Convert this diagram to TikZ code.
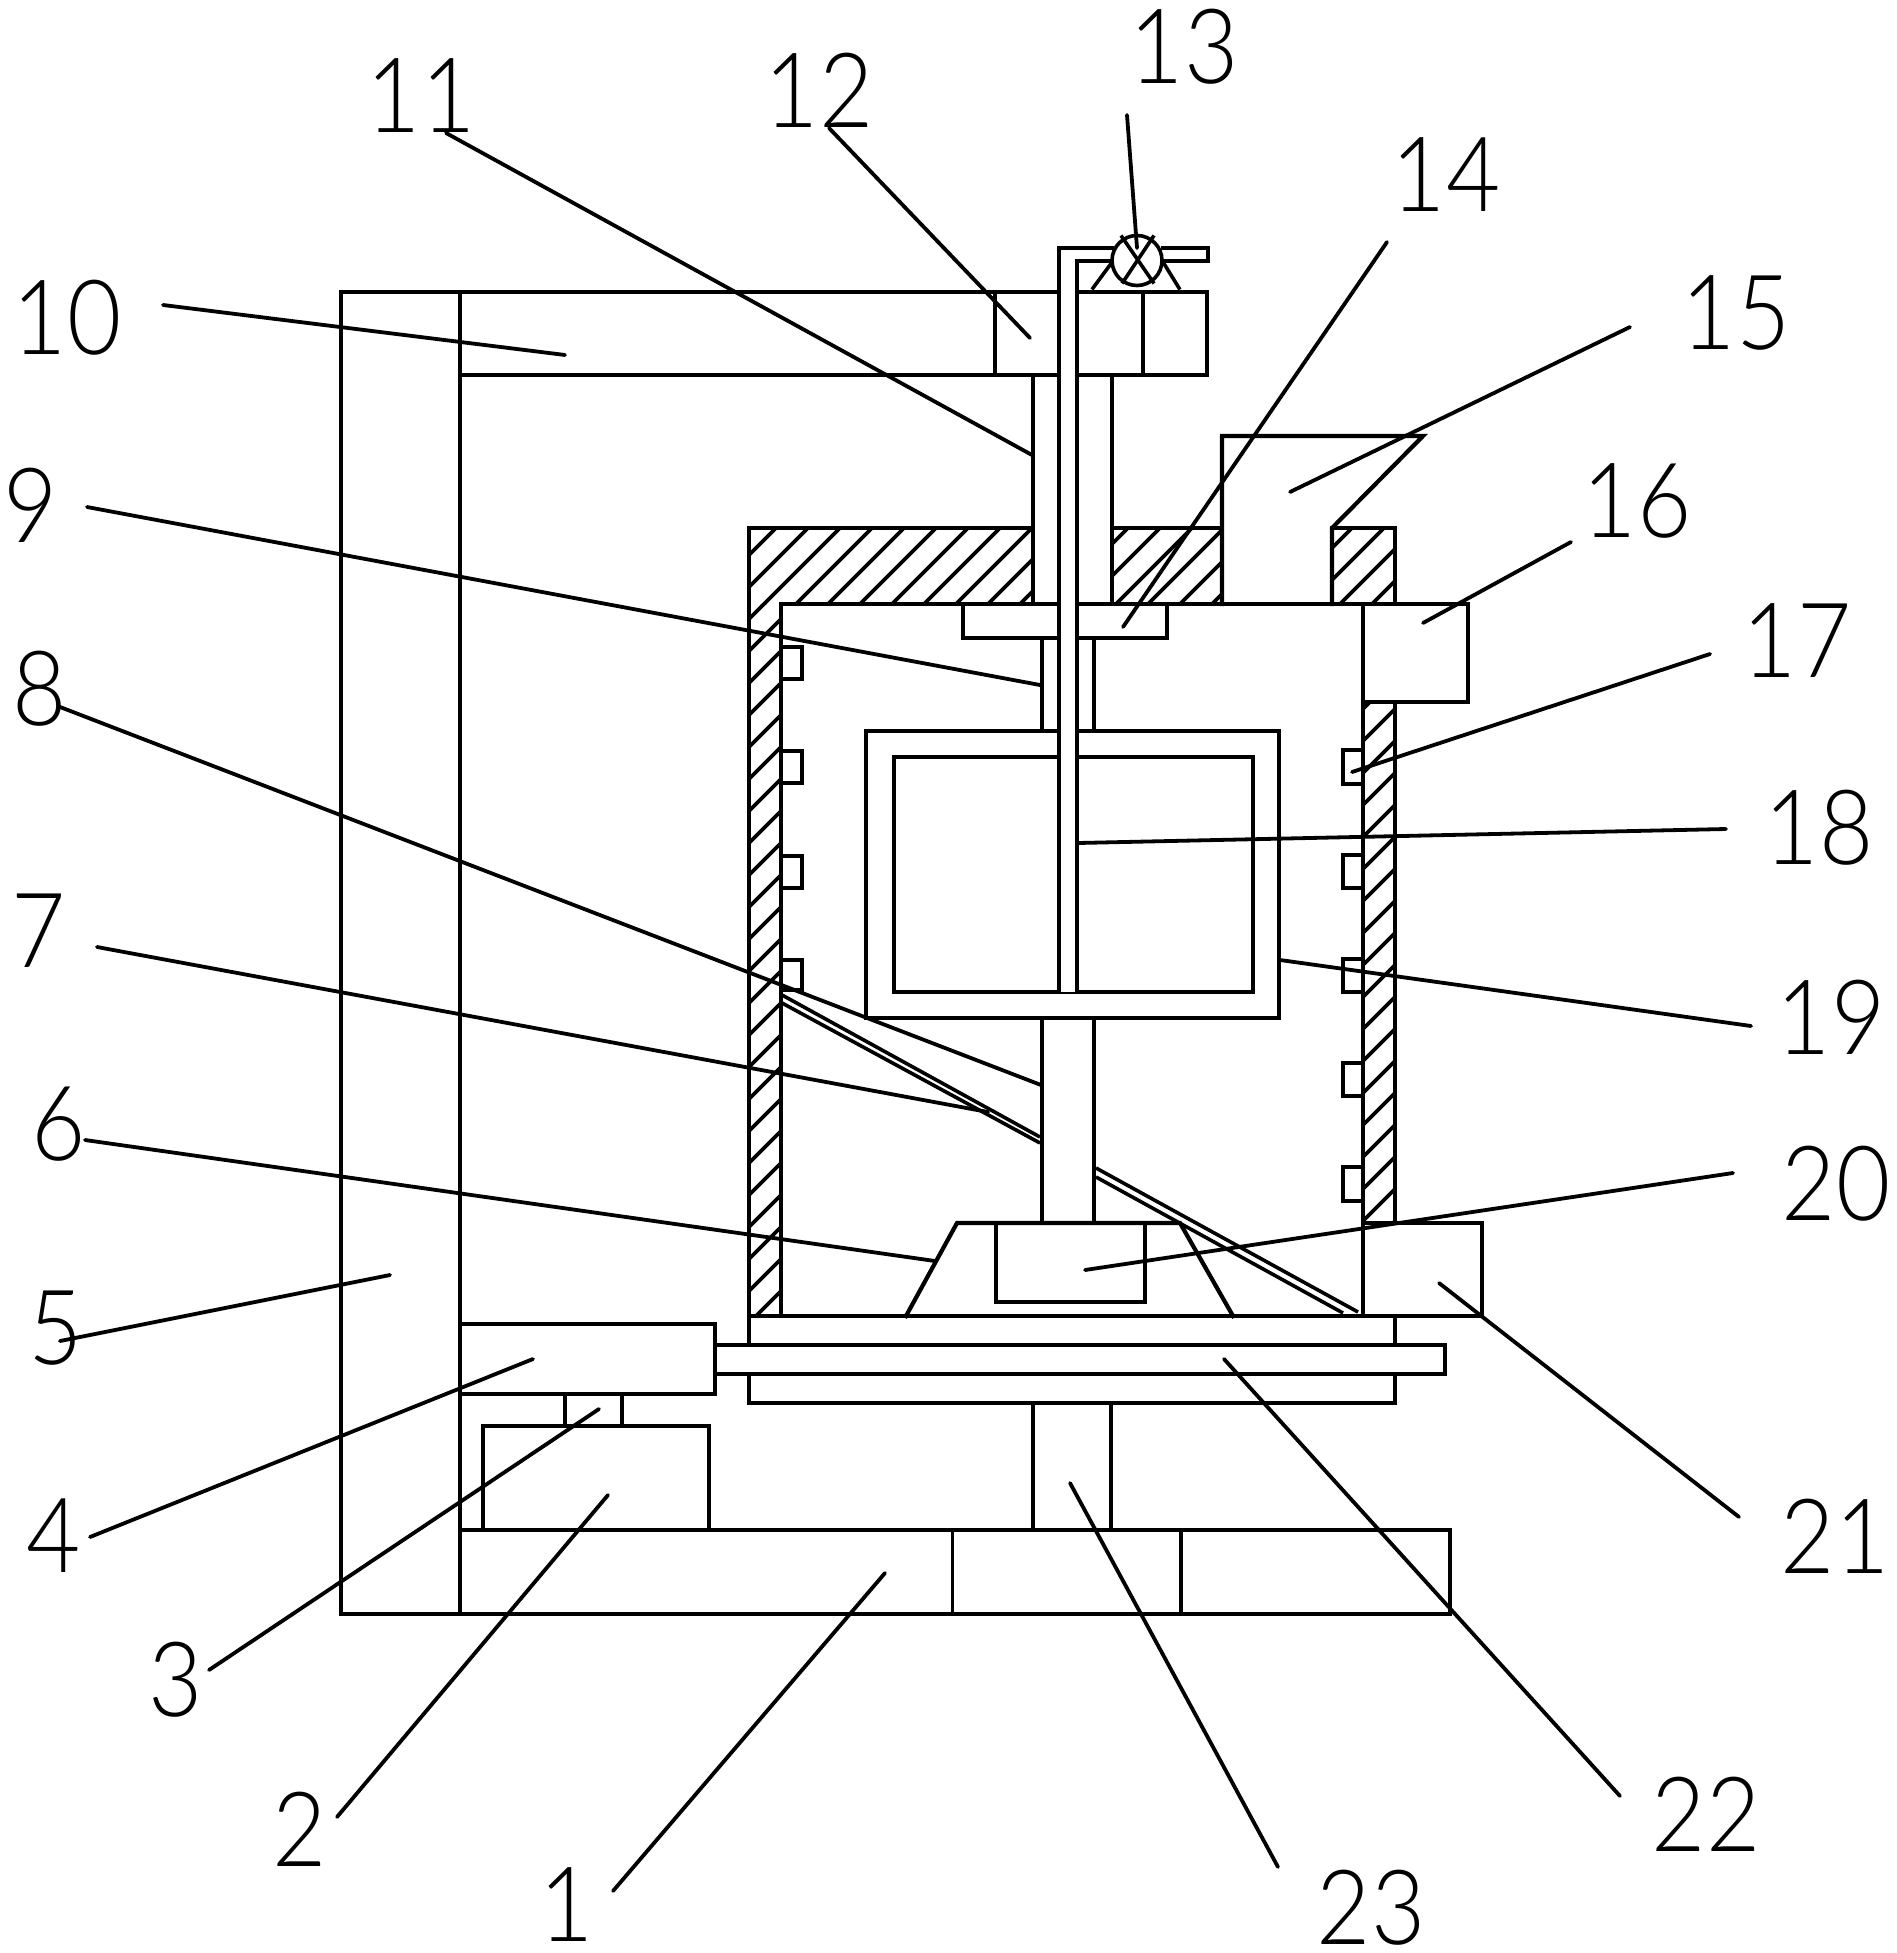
\documentclass[tikz,border=0pt]{standalone}
\usepackage{fontspec}
\newfontfamily\labfont{Lato Light}
\tikzset{
  part/.style={line width=4.2pt,line join=miter,line cap=rect,draw=black},
  thinpart/.style={line width=3.6pt,draw=black,line cap=rect},
  hatchline/.style={line width=3.6pt,draw=black},
  leaderline/.style={line width=3.8pt,draw=black,line cap=round},
  numlabel/.style={inner sep=0pt,outer sep=0pt,font=\labfont\fontsize{104}{104}\selectfont,text=black}
}
% name, text, label position, leader start, leader end
\newcommand{\callout}[5]{%
  \node[numlabel] (lab#1) at (#3) {\scalebox{0.9}[1]{#2}};
  \coordinate (from#1) at (#4);
  \coordinate (to#1) at (#5);
  \draw[leaderline] (from#1) -- (to#1);
}
\newcommand{\hatchbox}[4]{%
  \begin{scope}
    \clip (#1,#2) rectangle (#3,#4);
    \foreach \k in {-10,...,36} {
      \pgfmathsetmacro{\cc}{1560+32*\k}
      \draw[hatchline] (\cc-500,500) -- (\cc-1500,1500);
    }
  \end{scope}
}
\begin{document}
\begin{tikzpicture}[x=1pt,y=-1pt]
\fill[white] (0,0) rectangle (1896,1953);
\useasboundingbox (0,0) rectangle (1896,1953);

% hatching
\hatchbox{749}{528}{1033}{604}
\hatchbox{1112}{528}{1222}{604}
\hatchbox{1332}{528}{1395}{604}
\hatchbox{749}{604}{781}{1316}
\hatchbox{1363}{702}{1395}{1223}

% frame
\draw[part] (341,292) rectangle (460,1614);
\draw[part] (460,292) -- (1207,292) -- (1207,375) -- (460,375);
\draw[thinpart] (995,292) -- (995,375);
\draw[thinpart] (1143,292) -- (1143,375);
% base
\draw[part] (460,1530) -- (1450,1530) -- (1450,1614) -- (460,1614);
\draw[thinpart] (952.5,1530) -- (952.5,1614);
\draw[thinpart] (1181,1530) -- (1181,1614);
% column under the tray
\draw[part] (1033,1403) -- (1033,1530);
\draw[part] (1111,1403) -- (1111,1530);
% motor and coupling
\draw[part] (483,1530) -- (483,1426) -- (709,1426) -- (709,1530);
\draw[part] (565,1394) -- (565,1426);
\draw[part] (622,1394) -- (622,1426);
\draw[part] (460,1324) -- (715,1324) -- (715,1394) -- (460,1394);
% sliding bar and tray
\draw[part] (715,1345) -- (1445,1345) -- (1445,1374) -- (715,1374);
\draw[part] (749,1316) -- (1482,1316) -- (1482,1223) -- (1363,1223);
\draw[part] (749,1374) -- (749,1403) -- (1395,1403) -- (1395,1374);
\draw[part] (1395,1345) -- (1395,1316);
% housing
\draw[part] (749,1345) -- (749,528) -- (1033,528);
\draw[part] (781,604) -- (781,1316);
\draw[part] (781,604) -- (1468,604) -- (1468,702) -- (1363,702);
\draw[part] (1363,604) -- (1363,1316);
\draw[part] (1395,702) -- (1395,1223);
\draw[part] (1033,375) -- (1033,604);
\draw[part] (1112,375) -- (1112,604);
\draw[part] (1112,528) -- (1222,528);
\draw[part] (1222,604) -- (1222,436) -- (1423,436) -- (1332,528) -- (1332,604);
\draw[part] (1332,528) -- (1395,528) -- (1395,604);
% wall studs
\foreach \a/\b in {647/679,751/783,856/888,960/990}
  \draw[thinpart] (781,\a) -- (802,\a) -- (802,\b) -- (781,\b);
\foreach \a/\b in {750/784,855/888,959/992,1063/1096,1167/1201}
  \draw[thinpart] (1363,\a) -- (1343,\a) -- (1343,\b) -- (1363,\b);
% bearing block, shaft, mixer box
\draw[part] (963,604) -- (963,638) -- (1167,638) -- (1167,604);
\draw[thinpart] (1042,638) -- (1042,731);
\draw[thinpart] (1094,638) -- (1094,731);
\draw[part] (866,731) rectangle (1279,1018);
\draw[part] (894,757) rectangle (1253,992);
\draw[part] (1042,1018) -- (1042,1223);
\draw[part] (1094,1018) -- (1094,1223);
% screen plate
\draw[thinpart,line cap=butt] (782,995) -- (1040,1137);
\draw[thinpart,line cap=butt] (782,1003) -- (1040,1143);
\draw[thinpart,line cap=butt] (1096,1168) -- (1358,1312);
\draw[thinpart,line cap=butt] (1096,1177) -- (1343,1313);
% cone and lower block
\draw[part] (906,1316) -- (957,1223) -- (1180,1223) -- (1233,1316);
\draw[part] (996,1223) -- (996,1302) -- (1145,1302) -- (1145,1223);
% pipe
\fill[white] (1059,262) rectangle (1077,992);
\draw[part] (1059,992) -- (1059,248) -- (1112,248);
\draw[part] (1077,992) -- (1077,261) -- (1110,261);
\draw[part] (1163,248) -- (1208,248) -- (1208,261) -- (1163,261);
% valve
\draw[thinpart] (1137,260.5) circle[radius=25];
\draw[thinpart] (1122,237) -- (1153,282);
\draw[thinpart] (1153,237) -- (1123,282);
\draw[thinpart] (1093,288) -- (1110,265);
\draw[thinpart] (1179,288) -- (1163,262);

% numbered labels and leaders
\callout{a}{1}{567,1905}{613,1891}{885,1573}
\callout{b}{2}{300,1829}{337,1817}{608,1495}
\callout{c}{3}{176,1680}{209,1670}{599,1409}
\callout{d}{4}{54,1536}{90,1537}{533,1359}
\callout{e}{5}{56,1328}{60,1341}{390,1275}
\callout{f}{6}{59,1124}{85,1140}{935,1261}
\callout{g}{7}{39,931}{97,947}{988,1112}
\callout{h}{8}{40,689}{60,707}{1041,1085}
\callout{i}{9}{31,505}{87,507}{1040,685}
\callout{j}{10}{67,318}{163,305}{565,355}
\callout{k}{11}{421,96}{446,133}{1032,455}
\callout{l}{12}{819,90}{829,128}{1030,338}
\callout{m}{13}{1184,47}{1127,115}{1137,248}
\callout{n}{14}{1446,175}{1387,242}{1123,627}
\callout{o}{15}{1736,313}{1630,327}{1290,492}
\callout{p}{16}{1637,501}{1571,542}{1423,623}
\callout{q}{17}{1797,641}{1710,654}{1352,772}
\callout{r}{18}{1819,828}{1726,829}{1078,843}
\callout{s}{19}{1831,1017}{1751,1026}{1280,960}
\callout{t}{20}{1836,1184}{1733,1173}{1085,1270}
\callout{u}{21}{1835,1536}{1739,1517}{1439,1283}
\callout{v}{22}{1706,1814}{1620,1796}{1224,1359}
\callout{w}{23}{1371,1908}{1278,1867}{1070,1483}
\end{tikzpicture}
\end{document}
